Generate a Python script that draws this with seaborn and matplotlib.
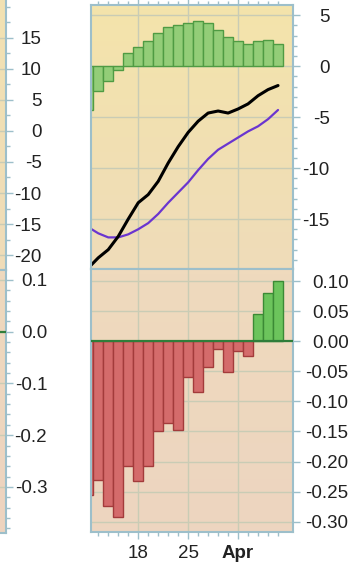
import matplotlib
matplotlib.use("Agg")
import matplotlib.pyplot as plt
from matplotlib.colors import LinearSegmentedColormap
import numpy as np
import pandas as pd
import seaborn as sns

# trading days on the x axis (weekends skipped)
days = pd.bdate_range("2019-03-11", periods=20)

# upper pane: MACD line, signal line, histogram
macd = [-19.8, -18.8, -18.0, -16.7, -15.0, -13.4, -12.6, -11.3, -9.5, -7.9,
        -6.5, -5.4, -4.6, -4.4, -4.6, -4.2, -3.7, -2.9, -2.3, -1.9]
signal = [-15.8, -16.4, -16.8, -16.8, -16.5, -16.0, -15.4, -14.5, -13.4, -12.4,
          -11.4, -10.2, -9.1, -8.2, -7.6, -7.0, -6.4, -5.9, -5.2, -4.3]
hist = [-4.35, -2.48, -1.5, -0.36, 1.27, 1.86, 2.42, 3.24, 3.82, 3.99,
        4.22, 4.41, 4.22, 3.56, 2.84, 2.42, 2.19, 2.42, 2.61, 2.19]

# lower pane
osc = [-0.255, -0.230, -0.274, -0.292, -0.208, -0.233, -0.207, -0.150, -0.136, -0.147,
       -0.060, -0.084, -0.043, -0.013, -0.051, -0.016, -0.024, 0.046, 0.080, 0.100]

x_tick_days = ["2019-03-18", "2019-03-25", "2019-04-01"]
x_tick_labels = ["18", "25", "Apr"]

up_ticks = [5, 0, -5, -10, -15]
lo_ticks = [0.10, 0.05, 0.00, -0.05, -0.10, -0.15, -0.20, -0.25, -0.30]
left_up_ticks = [15, 10, 5, 0, -5, -10, -15, -20]
left_lo_ticks = [0.1, 0.0, -0.1, -0.2, -0.3]

sns.set_theme(style="ticks")
plt.rcParams["font.family"] = ["Liberation Sans", "DejaVu Sans"]
plt.rcParams["axes.unicode_minus"] = False

EDGE = "#9dbfca"
GRID = "#c9ccb5"
FS = 13.5

W, H = 359, 562
def box(x0, y0, x1, y1):
    return [x0 / W, 1 - y1 / H, (x1 - x0) / W, (y1 - y0) / H]

fig = plt.figure(figsize=(W / 100, H / 100), dpi=100)
ax_up = fig.add_axes(box(91, 5, 293, 269))
ax_lo = fig.add_axes(box(91, 269, 293, 532))
ax_lup = fig.add_axes(box(-60, -10, 5.5, 270))
ax_llo = fig.add_axes(box(-60, 270, 5.5, 533))

pos = np.arange(len(days))
hist = np.array(hist)
osc = np.array(osc)

# bars and lines
sns.barplot(x=pos, y=hist, native_scale=True, width=1, color="#93cd78", saturation=1,
            edgecolor="#4f9b43", linewidth=1, errorbar=None, ax=ax_up)
sns.lineplot(x=pos, y=signal, color="#6a35d0", linewidth=1.6, ax=ax_up)
sns.lineplot(x=pos, y=macd, color="black", linewidth=2.2, ax=ax_up)

neg = osc < 0
sns.barplot(x=pos[neg], y=osc[neg], native_scale=True, width=1, color="#d46b6b", saturation=1,
            edgecolor="#a33b3b", linewidth=1, errorbar=None, ax=ax_lo)
sns.barplot(x=pos[~neg], y=osc[~neg], native_scale=True, width=1, color="#6cc45c", saturation=1,
            edgecolor="#3b8a35", linewidth=1, errorbar=None, ax=ax_lo)
ax_lo.axhline(0, color="#2f7d3a", linewidth=1.6, zorder=3)
ax_llo.axhline(0, color="#2f7d3a", linewidth=1.6, zorder=3)


def frame(ax, top, bottom, yticks, labels, pad, minor=None):
    cmap = LinearSegmentedColormap.from_list("bg", [bottom, top])
    ax.imshow(np.linspace(0, 1, 50).reshape(-1, 1), cmap=cmap, origin="lower",
              aspect="auto", extent=[0, 1, 0, 1], transform=ax.transAxes, zorder=0)
    for s in ax.spines.values():
        s.set_visible(True)
        s.set_color(EDGE)
        s.set_linewidth(1.5)
    ax.set_axisbelow(True)
    ax.grid(True, which="major", color=GRID, linewidth=1)
    ax.yaxis.tick_right()
    ax.set_yticks(yticks)
    ax.set_yticklabels(labels, ha="right")
    if minor is not None:
        ax.set_yticks(minor, minor=True)
    ax.tick_params(axis="y", which="major", length=5, width=1, color=EDGE,
                   labelsize=FS, labelcolor="#222222", pad=pad)
    ax.tick_params(axis="y", which="minor", length=3, width=1, color=EDGE)
    ax.tick_params(axis="x", which="both", bottom=False, top=False, labelbottom=False)
    ax.set_xlabel("")
    ax.set_ylabel("")


frame(ax_up, "#f4e4ab", "#efdcb9", up_ticks, [str(v) for v in up_ticks], 21.5,
      minor=np.arange(-19, 6))
frame(ax_lo, "#efdabd", "#edd5c0", lo_ticks, [f"{v:.2f}" for v in lo_ticks], 35)
frame(ax_lup, "#f2e2b2", "#efdcb8", left_up_ticks, [str(v) for v in left_up_ticks], 21,
      minor=np.arange(-22.5, 22.6, 2.5))
frame(ax_llo, "#efd9bd", "#edd4c0", left_lo_ticks, [f"{v:.1f}" for v in left_lo_ticks], 25,
      minor=np.arange(-0.38, 0.12, 0.02))

# x axis: one tick per trading day, labels on Mondays
major = [days.get_loc(pd.Timestamp(d)) for d in x_tick_days]
for ax in (ax_up, ax_lo):
    ax.set_xticks(major)
    ax.set_xticks(pos, minor=True)
    ax.set_xlim(0.27, 20.5)
ax_up.tick_params(axis="x", which="major", top=True, length=5, width=1, color=EDGE)
ax_up.tick_params(axis="x", which="minor", top=True, length=3, width=1, color=EDGE)
ax_lo.set_xticklabels(x_tick_labels)
ax_lo.tick_params(axis="x", which="major", bottom=True, labelbottom=True, length=5, width=1,
                  color=EDGE, labelsize=FS, labelcolor="#222222", pad=4)
ax_lo.tick_params(axis="x", which="minor", bottom=True, length=3, width=1, color=EDGE)
ax_lo.get_xticklabels()[2].set_fontweight("bold")

for ax in (ax_lup, ax_llo):
    ax.set_xticks([])
    ax.set_xlim(0, 1)

ax_up.set_ylim(-19.9, 6.0)
ax_lo.set_ylim(-0.317, 0.120)
ax_lup.set_ylim(-22.4, 22.7)
ax_llo.set_ylim(-0.389, 0.119)

fig.savefig("out.png", dpi=100)
